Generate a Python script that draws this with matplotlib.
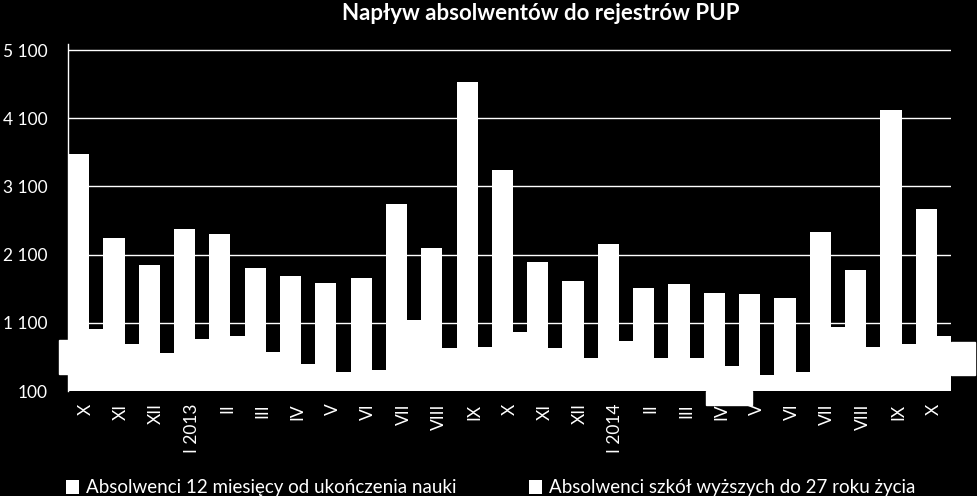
import matplotlib
matplotlib.use("Agg")
import matplotlib.pyplot as plt
from matplotlib.patches import Rectangle
import numpy as np

plt.rcParams['font.family'] = ['Lato', 'DejaVu Sans']

categories = ["X", "XI", "XII", "I 2013", "II", "III", "IV", "V", "VI", "VII", "VIII", "IX",
              "X", "XI", "XII", "I 2014", "II", "III", "IV", "V", "VI", "VII", "VIII", "IX", "X"]
grads_12m = [3580, 2347, 1950, 2479, 2405, 1906, 1789, 1686, 1759, 2846, 2200, 4637,
             3345, 1994, 1715, 2259, 1612, 1671, 1539, 1524, 1466, 2435, 1877, 4226, 2773]
grads_higher = [1010, 795, 662, 868, 912, 677, 501, 383, 413, 1143, 731, 746,
                966, 731, 585, 839, 585, 585, 472, 339, 383, 1044, 751, 795, 908]
yticks = [100, 1100, 2100, 3100, 4100, 5100]
ytick_labels = ["100", "1 100", "2 100", "3 100", "4 100", "5 100"]
title = "Napływ absolwentów do rejestrów PUP"
series_names = ["Absolwenci 12 miesięcy od ukończenia nauki",
                "Absolwenci szkół wyższych do 27 roku życia"]

W, H = 978, 496
fig = plt.figure(figsize=(W / 100, H / 100), dpi=100, facecolor="black")
ax = fig.add_axes([68 / W, (H - 391) / H, (951 - 68) / W, (391 - 44) / H], facecolor="black")

x = np.arange(len(categories))
ax.set_axisbelow(True)
ax.grid(axis="y", color="white", linewidth=1.0)
b1 = ax.bar(x - 0.5, grads_12m, width=0.6, align="edge", color="white", label=series_names[0], zorder=3)
b2 = ax.bar(x + 0.1, grads_higher, width=0.4, align="edge", color="white", label=series_names[1], zorder=3)

ax.set_xlim(-0.5, len(categories) - 0.5)
ax.set_ylim(100, 5190)
ax.set_yticks(yticks)
ax.set_yticklabels(ytick_labels, color="white", fontsize=12.5)
ax.set_xticks(x)
ax.set_xticklabels(categories, rotation=90, color="white", fontsize=12.5, va="top")
ax.tick_params(axis="both", length=0)
ax.tick_params(axis="y", pad=15)
ax.tick_params(axis="x", pad=9)
for s in ["top", "right", "bottom"]:
    ax.spines[s].set_visible(False)
ax.spines["left"].set_color("white")
ax.spines["left"].set_linewidth(1.0)

fig.text(541 / W, 1 - 13 / H, title, color="white", fontsize=16, fontweight="bold",
         ha="center", va="center")

leg = fig.legend(handles=[b1, b2], labels=series_names, loc="center left",
                 bbox_to_anchor=(66 / W, 1 - 488 / H), ncol=2, frameon=False,
                 borderpad=0, borderaxespad=0,
                 fontsize=13.5, labelcolor="white", handlelength=0.7, handleheight=0.7,
                 handletextpad=0.35, columnspacing=3.9)

# white artefact boxes present in the reference image
for (x0, y0, x1, y1) in [(59, 340, 68, 374), (951, 342, 975, 375), (706, 391, 752, 405)]:
    fig.patches.append(Rectangle((x0 / W, 1 - y1 / H), (x1 - x0) / W, (y1 - y0) / H,
                                 transform=fig.transFigure, color="white", zorder=5))

fig.savefig("out.png", dpi=100, facecolor="black")
